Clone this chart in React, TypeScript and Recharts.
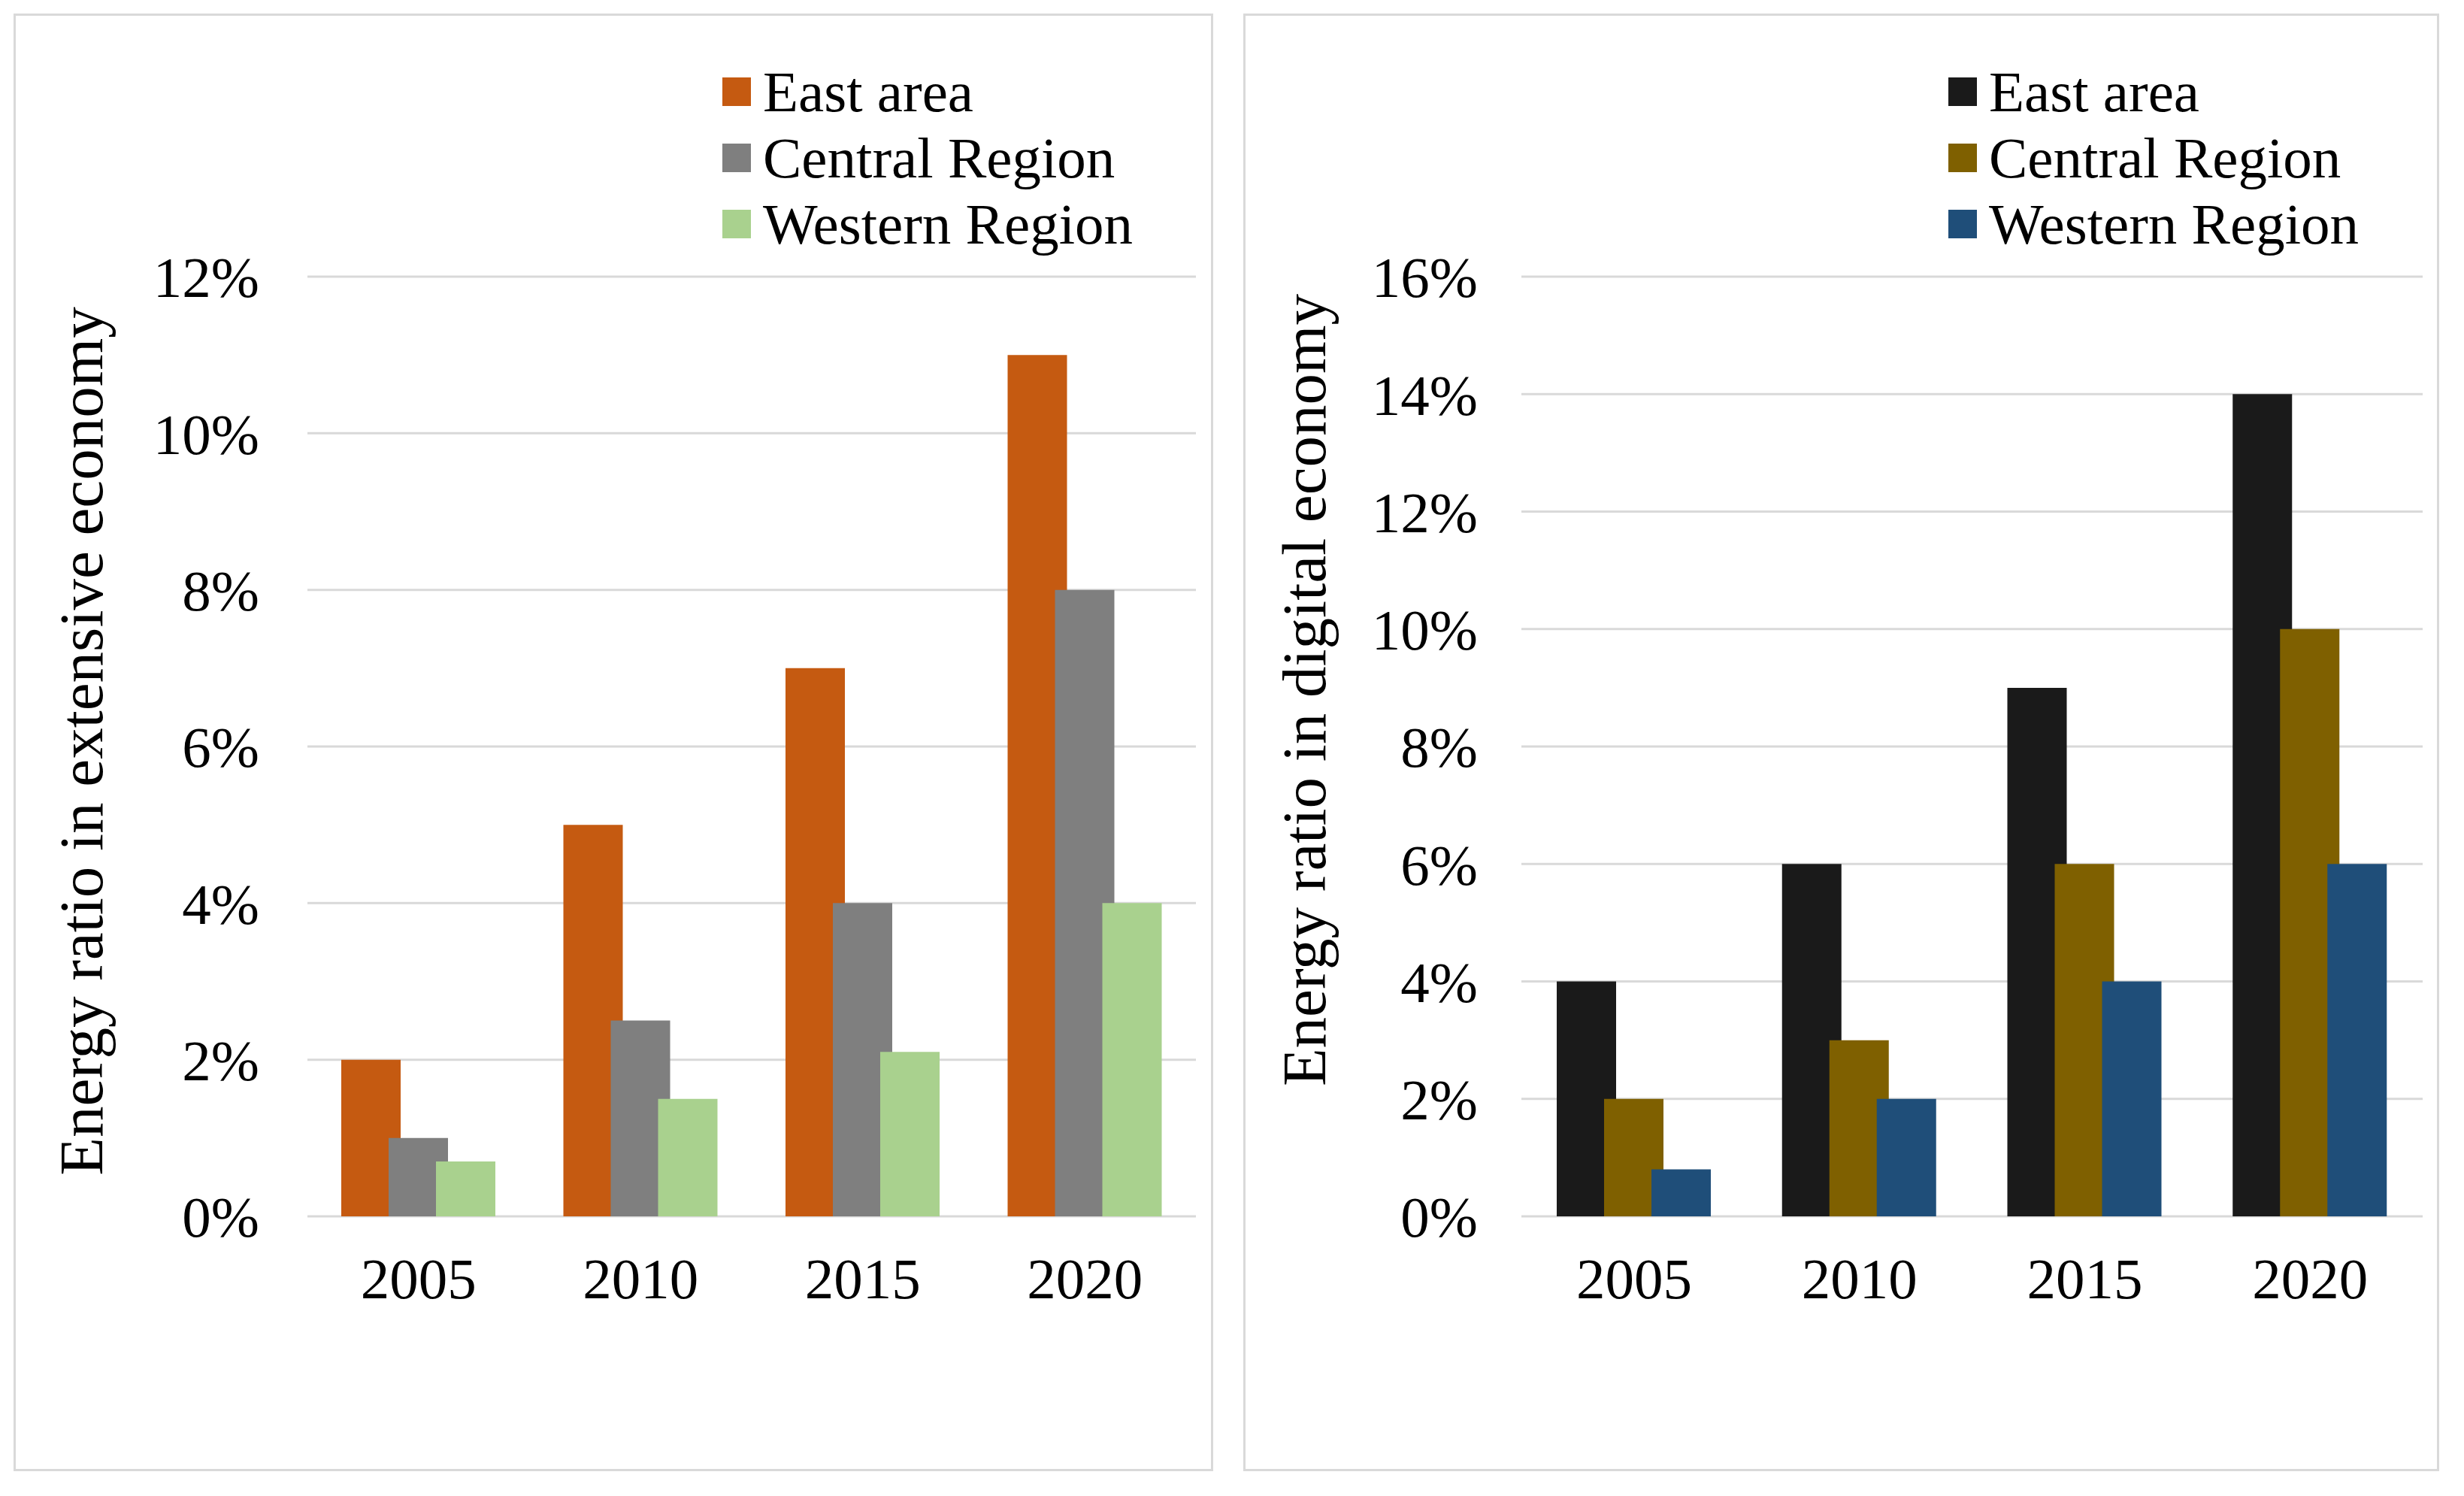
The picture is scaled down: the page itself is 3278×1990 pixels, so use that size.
import { BarChart, Bar, XAxis, YAxis, CartesianGrid, Legend, Label } from 'recharts';

const years = ['2005', '2010', '2015', '2020'];
const seriesNames = ['East area', 'Central Region', 'Western Region'];

// left panel: extensive economy (%)
const extEast = [2, 5, 7, 11];
const extCentral = [1, 2.5, 4, 8];
const extWestern = [0.7, 1.5, 2.1, 4];
const extTicks = [0, 2, 4, 6, 8, 10, 12];

// right panel: digital economy (%)
const digEast = [4, 6, 9, 14];
const digCentral = [2, 3, 6, 10];
const digWestern = [0.8, 2, 4, 6];
const digTicks = [0, 2, 4, 6, 8, 10, 12, 14, 16];

const extColors = ['#C55A11', '#7F7F7F', '#A9D18E'];
const digColors = ['#1A1A1A', '#7F6000', '#1F4E79'];

const FONT = '"Liberation Serif", "Times New Roman", serif';
const FS = 77;
const TITLE_FS = 83;

const buildRows = (a: number[], b: number[], c: number[]) =>
  years.map((year, i) => ({ year, east: a[i], central: b[i], western: c[i] }));

const extData = buildRows(extEast, extCentral, extWestern);
const digData = buildRows(digEast, digCentral, digWestern);

const LegendBox = ({ payload }: any) => {
  // keep series order, recharts sorts by name otherwise
  const items = [...(payload || [])].sort(
    (a: any, b: any) => seriesNames.indexOf(a.value) - seriesNames.indexOf(b.value)
  );
  return (
    <div style={{ fontFamily: FONT, fontSize: FS, color: '#000' }}>
      {items.map((p: any) => (
        <div key={p.value} style={{ display: 'flex', alignItems: 'center', height: 88, whiteSpace: 'nowrap' }}>
          <span style={{ width: 38, height: 38, background: p.color, marginRight: 16, display: 'inline-block' }} />
          <span>{p.value}</span>
        </div>
      ))}
    </div>
  );
};

interface PanelProps {
  data: any[];
  colors: string[];
  ticks: number[];
  title: string;
  left: number;
  yWidth: number;
  rightMargin: number;
  tickGap: number;
  titleX: number;
  titleDy: number;
  legendLeft: number;
}

const Panel = ({ data, colors, ticks, title, left, yWidth, rightMargin, tickGap, titleX, titleDy, legendLeft }: PanelProps) => (
  <div style={{ position: 'absolute', left, top: 0 }}>
    <BarChart
      width={1620}
      height={1960}
      data={data}
      margin={{ top: 368, right: rightMargin, bottom: 192, left: 0 }}
      barSize={79}
      barGap={-16}
    >
      <CartesianGrid vertical={false} stroke="#D9D9D9" strokeWidth={3} />
      <XAxis
        dataKey="year"
        axisLine={false}
        tickLine={false}
        tickSize={0}
        tickMargin={54}
        height={150}
        tick={{ fontFamily: FONT, fontSize: FS, fill: '#000' }}
      />
      <YAxis
        type="number"
        domain={[0, ticks[ticks.length - 1]]}
        ticks={ticks}
        interval={0}
        width={yWidth}
        axisLine={false}
        tickLine={false}
        tickSize={0}
        tickMargin={tickGap}
        tickFormatter={(v: number) => `${v}%`}
        tick={{ fontFamily: FONT, fontSize: FS, fill: '#000' }}
      >
        <Label
          content={({ viewBox }: any) => {
            const x = viewBox.x + titleX;
            const y = viewBox.y + viewBox.height / 2 + titleDy;
            return (
              <text
                x={x}
                y={y}
                transform={`rotate(-90 ${x} ${y})`}
                textAnchor="middle"
                fontFamily={FONT}
                fontSize={TITLE_FS}
                fill="#000"
              >
                {title}
              </text>
            );
          }}
        />
      </YAxis>
      <Legend
        layout="vertical"
        align="center"
        verticalAlign="middle"
        wrapperStyle={{ left: legendLeft, top: 78, width: 'auto' }}
        content={<LegendBox />}
      />
      <Bar dataKey="east" name={seriesNames[0]} fill={colors[0]} isAnimationActive={false} />
      <Bar dataKey="central" name={seriesNames[1]} fill={colors[1]} isAnimationActive={false} />
      <Bar dataKey="western" name={seriesNames[2]} fill={colors[2]} isAnimationActive={false} />
    </BarChart>
  </div>
);

export default function App() {
  return (
    <div style={{ position: 'absolute', left: 0, top: 0, width: 3278, height: 1990, background: '#fff', overflow: 'hidden' }}>
      <div style={{ position: 'absolute', left: 18, top: 18, width: 1590, height: 1933, border: '3px solid #D9D9D9' }} />
      <div style={{ position: 'absolute', left: 1654, top: 18, width: 1585, height: 1933, border: '3px solid #D9D9D9' }} />
      <Panel
        data={extData}
        colors={extColors}
        ticks={extTicks}
        title="Energy ratio in extensive economy"
        left={0}
        yWidth={409}
        rightMargin={29}
        tickGap={64}
        titleX={136}
        titleDy={-7}
        legendLeft={961}
      />
      <Panel
        data={digData}
        colors={digColors}
        ticks={digTicks}
        title="Energy ratio in digital economy"
        left={1640}
        yWidth={384}
        rightMargin={37}
        tickGap={58}
        titleX={123}
        titleDy={-75}
        legendLeft={952}
      />
    </div>
  );
}
